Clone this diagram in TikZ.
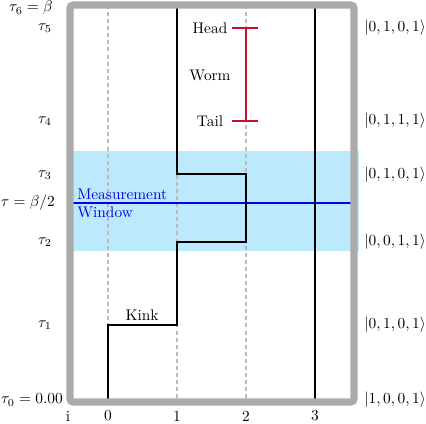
\documentclass[tikz,border=0pt]{standalone}
\begin{document}
\begin{tikzpicture}[x=0.65pt,y=-0.65pt,
  framebox/.style={draw=black!33,line width=4.6pt,rounded corners=2pt},
  gridline/.style={draw=black!27,line width=0.8pt,dash pattern=on 2.6pt off 2pt},
  world/.style={draw=black,line width=1.85pt},
  wormline/.style={draw={rgb,255:red,200;green,16;blue,46},line width=1.5pt},
  band/.style={fill={rgb,255:red,188;green,234;blue,252}},
  midline/.style={draw={rgb,255:red,0;green,0;blue,235},line width=0.8pt},
  lbl/.style={inner sep=0pt},
  ket/.style={inner sep=0pt,anchor=west}]
\useasboundingbox (0,0) rectangle (426,423);
% measurement window
\fill[band] (70,151) rectangle (359,251);
% site grid
\foreach \s/\x in {0/108,1/177,2/246,3/315}{
  \coordinate (top\s) at (\x,5);
  \coordinate (bot\s) at (\x,402);
  \draw[gridline] (top\s) -- (bot\s);
}
% beta/2 line
\coordinate (mL) at (70,203);
\coordinate (mR) at (354,203);
\draw[midline] (mL) -- (mR);
\node[lbl,anchor=west,text={rgb,255:red,0;green,0;blue,235}] (meas) at (77,194) {Measurement};
\node[lbl,anchor=west,text={rgb,255:red,0;green,0;blue,235}] (wind) at (77,212) {Window};
% world lines
\coordinate (k1a) at (108,325);
\coordinate (k1b) at (177,325);
\coordinate (k2a) at (177,242);
\coordinate (k2b) at (246,242);
\coordinate (k3a) at (246,174);
\coordinate (k3b) at (177,174);
\draw[world] (bot0) -- (k1a) -- (k1b) -- (k2a) -- (k2b) -- (k3a) -- (k3b) -- (top1);
\draw[world] (bot3) -- (top3);
% frame
\draw[framebox] (70,5) rectangle (354,402);
% worm
\coordinate (hL) at (232,28); \coordinate (hR) at (258,28); \coordinate (hC) at (246,28);
\coordinate (tL) at (232,121); \coordinate (tR) at (258,121); \coordinate (tC) at (246,121);
\draw[wormline] (hL) -- (hR);
\draw[wormline] (tL) -- (tR);
\draw[wormline] (hC) -- (tC);
\node[lbl] (head) at (210,28) {Head};
\node[lbl] (worm) at (210,75) {Worm};
\node[lbl] (tail) at (210,121) {Tail};
\node[lbl] (kink) at (142,315) {Kink};
% time labels
\node[lbl,anchor=east] (t6) at (53,8) {$\tau_6=\beta$};
\node[lbl,anchor=east] (t5) at (52,28) {$\tau_5$};
\node[lbl,anchor=east] (t4) at (52,121) {$\tau_4$};
\node[lbl,anchor=east] (t3) at (52,175) {$\tau_3$};
\node[lbl,anchor=east] (tm) at (55,203) {$\tau=\beta/2$};
\node[lbl,anchor=east] (t2) at (52,242) {$\tau_2$};
\node[lbl,anchor=east] (t1) at (52,325) {$\tau_1$};
\node[lbl,anchor=east] (t0) at (63,400) {$\tau_0=0.00$};
% site labels
\node[lbl] (si) at (68,416) {i};
\node[lbl] (s0) at (108,416) {0};
\node[lbl] (s1) at (177,416) {1};
\node[lbl] (s2) at (246,416) {2};
\node[lbl] (s3) at (315,416) {3};
% kets
\node[ket] (q5) at (364,28) {$|0,1,0,1\rangle$};
\node[ket] (q4) at (364,121) {$|0,1,1,1\rangle$};
\node[ket] (q3) at (364,175) {$|0,1,0,1\rangle$};
\node[ket] (q2) at (364,242) {$|0,0,1,1\rangle$};
\node[ket] (q1) at (364,325) {$|0,1,0,1\rangle$};
\node[ket] (q0) at (364,400) {$|1,0,0,1\rangle$};
\end{tikzpicture}
\end{document}
